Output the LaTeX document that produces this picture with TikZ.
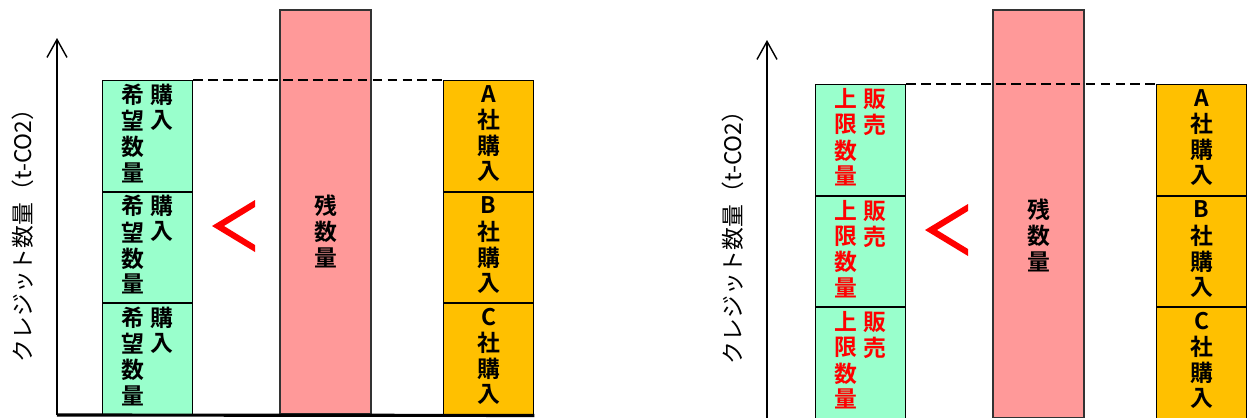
\documentclass[tikz,border=0pt]{standalone}
\usepackage{fontspec}
\setmainfont{Noto Sans CJK JP}[BoldFont={Noto Sans CJK JP Bold}]
\usetikzlibrary{arrows.meta}
\definecolor{mint}{HTML}{99FFCC}
\definecolor{salmon}{HTML}{FF9999}
\definecolor{amber}{HTML}{FFC000}
\newcommand{\tate}[1]{\begin{tabular}[t]{@{}c@{}}#1\end{tabular}}
\tikzset{
  bar/.style={draw=black,line width=1.1pt,minimum width=1.8cm,minimum height=2.22cm,inner sep=0pt,
    font=\bfseries\fontsize{13}{13}\selectfont},
  wish/.style={bar,fill=mint},
  buy/.style={bar,fill=amber},
  rest/.style={draw=black!80,line width=1pt,fill=salmon,minimum width=1.82cm,inner sep=0pt},
  axis/.style={line width=0.8pt,-{Straight Barb[length=3.6mm,width=4mm]}},
  ylab/.style={rotate=90,font=\fontsize{13}{14}\selectfont}
}
\begin{document}
\begin{tikzpicture}[x=0.02cm,y=-0.02cm]
\clip (0,0) rectangle (1249,417);
\foreach \p/\ox/\oy/\ax/\up/\lo/\tc in {l/0/0/57/{購\\入}/{希\\望\\数\\量}/black,r/713/4/767/{販\\売}/{上\\限\\数\\量}/red}{
  \coordinate (\p o) at (\ax,415+\oy);
  \coordinate (\p top) at (\ax,38+\oy/2);
  \draw[axis] (\p o) -- (\p top);
  \node[ylab] (\p lab) at (\ax-34,230+\oy/2) {クレジット数量（t-CO2）};
  \foreach \i/\yc/\c in {1/136/A,2/247.5/B,3/359/C}{
    \node[wish,text=\tc] (\p g\i) at (147.5+\ox,\yc+\oy) {\tate{\lo}\hspace{3.5pt}\tate{\up}};
    \node[buy] (\p c\i) at (488.5+\ox,\yc+\oy) {\tate{\c\\社\\購\\入}};
  }
  \node[rest,minimum height={(404+\oy)*0.02cm}] (\p rest) at (325.5+\ox,212+\oy/2) {};
  \node[font=\bfseries\fontsize{13}{13}\selectfont] (\p restlab) at (325.5+\ox,234+\oy) {\tate{残\\数\\量}};
  \draw[line width=1.1pt,dash pattern=on 5.5pt off 3pt] (\p g1.north east) -- (\p c1.north west);
  \fill[red] (255+\ox,200+\oy) -- (212+\ox,226+\oy) -- (255+\ox,252+\oy) -- (255+\ox,245+\oy)
    -- (224+\ox,226+\oy) -- (255+\ox,207+\oy) -- cycle;
}
\draw[line width=1.8pt] (lo) -- (lc3.south east -| lc3.east);
\end{tikzpicture}
\end{document}
